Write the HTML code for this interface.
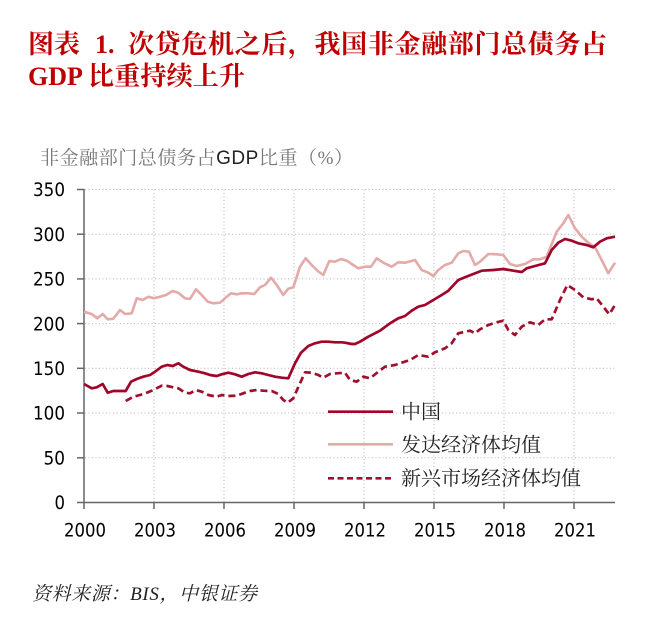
<!DOCTYPE html>
<html>
<head>
<meta charset="utf-8">
<style>
html,body{margin:0;padding:0;background:#fff;}
svg{display:block;}
</style>
</head>
<body>
<svg width="645" height="629" viewBox="0 0 645 629" xmlns="http://www.w3.org/2000/svg">
<rect width="645" height="629" fill="#fff"/>

<!-- Title -->
<g fill="#c00000" font-weight="bold" font-size="26">
  <text x="28" y="53" font-family="'Liberation Serif','Noto Serif CJK SC',serif" textLength="52" lengthAdjust="spacing">图表</text>
  <text x="95" y="53" font-family="'Liberation Serif',serif">1.</text>
  <text x="128" y="53" font-family="'Liberation Serif','Noto Serif CJK SC',serif" textLength="479" lengthAdjust="spacing">次贷危机之后，我国非金融部门总债务占</text>
  <text x="28" y="85" font-family="'Liberation Serif',serif">GDP</text>
  <text x="88" y="85" font-family="'Liberation Serif','Noto Serif CJK SC',serif" textLength="157" lengthAdjust="spacing">比重持续上升</text>
</g>

<!-- Axis title -->
<text x="40" y="164" font-size="19" font-family="'Liberation Serif','Noto Serif CJK SC',serif" fill="#777" textLength="313" lengthAdjust="spacing">非金融部门总债务占<tspan font-family="'Liberation Sans',sans-serif" fill="#222">GDP</tspan>比重（%）</text>

<!-- Grid -->
<g stroke="#b4b4b4" stroke-width="1" stroke-dasharray="1 2.5" fill="none">
  <line x1="85" y1="189.5" x2="615" y2="189.5"/>
  <line x1="85" y1="234.2" x2="615" y2="234.2"/>
  <line x1="85" y1="278.9" x2="615" y2="278.9"/>
  <line x1="85" y1="323.6" x2="615" y2="323.6"/>
  <line x1="85" y1="368.3" x2="615" y2="368.3"/>
  <line x1="85" y1="413.0" x2="615" y2="413.0"/>
  <line x1="85" y1="457.8" x2="615" y2="457.8"/>
  <line x1="154" y1="189.5" x2="154" y2="502"/>
  <line x1="224" y1="189.5" x2="224" y2="502"/>
  <line x1="294" y1="189.5" x2="294" y2="502"/>
  <line x1="364" y1="189.5" x2="364" y2="502"/>
  <line x1="434" y1="189.5" x2="434" y2="502"/>
  <line x1="504" y1="189.5" x2="504" y2="502"/>
  <line x1="574" y1="189.5" x2="574" y2="502"/>
</g>

<!-- Axes -->
<g stroke="#666" stroke-width="1.5" fill="none">
  <line x1="84" y1="189" x2="84" y2="503"/>
  <line x1="83.5" y1="502.5" x2="615" y2="502.5"/>
  <line x1="77" y1="189.5" x2="84" y2="189.5"/>
  <line x1="77" y1="234.2" x2="84" y2="234.2"/>
  <line x1="77" y1="278.9" x2="84" y2="278.9"/>
  <line x1="77" y1="323.6" x2="84" y2="323.6"/>
  <line x1="77" y1="368.3" x2="84" y2="368.3"/>
  <line x1="77" y1="413.0" x2="84" y2="413.0"/>
  <line x1="77" y1="457.8" x2="84" y2="457.8"/>
  <line x1="77" y1="502.5" x2="84" y2="502.5"/>
  <line x1="84" y1="502.5" x2="84" y2="509"/>
  <line x1="154" y1="502.5" x2="154" y2="509"/>
  <line x1="224" y1="502.5" x2="224" y2="509"/>
  <line x1="294" y1="502.5" x2="294" y2="509"/>
  <line x1="364" y1="502.5" x2="364" y2="509"/>
  <line x1="434" y1="502.5" x2="434" y2="509"/>
  <line x1="504" y1="502.5" x2="504" y2="509"/>
  <line x1="574" y1="502.5" x2="574" y2="509"/>
</g>

<!-- Y tick labels -->
<g font-family="'DejaVu Sans','Liberation Sans',sans-serif" font-size="18.5" fill="#000" text-anchor="end">
  <text x="65" y="196.2" textLength="32" lengthAdjust="spacingAndGlyphs">350</text>
  <text x="65" y="240.9" textLength="32" lengthAdjust="spacingAndGlyphs">300</text>
  <text x="65" y="285.6" textLength="32" lengthAdjust="spacingAndGlyphs">250</text>
  <text x="65" y="330.3" textLength="32" lengthAdjust="spacingAndGlyphs">200</text>
  <text x="65" y="375.0" textLength="32" lengthAdjust="spacingAndGlyphs">150</text>
  <text x="65" y="419.7" textLength="32" lengthAdjust="spacingAndGlyphs">100</text>
  <text x="65" y="464.5" textLength="21.5" lengthAdjust="spacingAndGlyphs">50</text>
  <text x="65" y="509.2" textLength="10.5" lengthAdjust="spacingAndGlyphs">0</text>
</g>

<!-- X tick labels -->
<g font-family="'DejaVu Sans','Liberation Sans',sans-serif" font-size="18.5" fill="#000" text-anchor="middle">
  <text x="85" y="536.5" textLength="42" lengthAdjust="spacingAndGlyphs">2000</text>
  <text x="155" y="536.5" textLength="42" lengthAdjust="spacingAndGlyphs">2003</text>
  <text x="225" y="536.5" textLength="42" lengthAdjust="spacingAndGlyphs">2006</text>
  <text x="295" y="536.5" textLength="42" lengthAdjust="spacingAndGlyphs">2009</text>
  <text x="365" y="536.5" textLength="42" lengthAdjust="spacingAndGlyphs">2012</text>
  <text x="435" y="536.5" textLength="42" lengthAdjust="spacingAndGlyphs">2015</text>
  <text x="505" y="536.5" textLength="42" lengthAdjust="spacingAndGlyphs">2018</text>
  <text x="575" y="536.5" textLength="42" lengthAdjust="spacingAndGlyphs">2021</text>
</g>

<!-- Developed economies (pink) -->
<polyline fill="none" stroke="#e4a9a9" stroke-width="2.6" stroke-linejoin="round" points="84,311.7 91.7,314 97.3,318.3 102.7,314 107.7,319.3 113.3,318.7 120,310 125,314 131.7,313.3 136.7,298.3 142.7,300 148.3,296.7 154,298.3 160,296.7 166,295 172.7,291 178.3,292.7 185,298.3 190,299 196,289.3 201.7,295 207.7,301.7 213.3,303.3 220,302.7 225,298.3 231,293.3 236.7,294.3 241.7,293.3 248.3,293.3 254.3,294 260,287.3 265,285 271,277.7 276.7,285 283.3,295 288.3,288.7 293.3,287.3 300,266.7 305.7,258.3 311.7,265 317.7,271 323.3,275 329.3,261 335,261.7 341,259 346.7,260.7 351.7,264 358.3,268.3 365,266.7 371,266.7 376.7,258.3 383.3,262.7 391.7,266.7 398.3,262.3 405,262.7 415,260 421.7,270 428.3,272.7 433.3,276 438.3,270 445,265 451.7,262.7 458.3,253.3 463.3,251 469,251.7 475,265 480,261.7 488.3,254 496.7,254.3 503.3,255 510,264 516.7,266 525,264 533.3,259.3 540,259.3 546.7,256.7 556.7,231.7 563.3,223.3 568.3,215 575,228.3 581.7,236.7 588.3,242.7 595,247.3 601.7,260 608.3,273.3 615,262.7"/>

<!-- Emerging markets (dashed) -->
<polyline fill="none" stroke="#a0102e" stroke-width="2.7" stroke-dasharray="7 4" stroke-linejoin="round" points="125.7,401 133.3,396.7 140,395 146.7,392.7 153.3,390 161.7,385.7 167.3,386 173.3,387.3 178.3,388.3 185,392.7 190,393.3 196,390 201.7,391.7 208.3,395 216.7,396.7 221.7,395 228.3,396 236.7,395.7 243.3,393.3 250,391 256.7,390 263.3,390.7 271.7,391 278.3,394 283.3,400 287.7,402.7 293.3,398.3 300,383.3 305,372.3 311.7,372.7 318.3,375 323.3,377.7 330,374 336.7,373.3 345,372.7 350,380 356.7,381.7 363.3,376.7 370,378.3 378.3,371.7 385,366.7 395,365 401.7,362.7 410,360 418.3,355 428.3,356.7 435,352.3 445,348.3 451.7,343.3 458.3,333.3 470,330.7 475,333.3 480,329.3 488.3,325 496.7,322.3 503.3,320.7 508.3,330 515,335 521.7,326.7 530,322.3 538.3,325 545,319.3 551.7,319.3 560,300 567.3,285 575,290 583.3,297.3 591.7,299.3 596.7,298.3 603.3,306.7 609.3,314.3 615,305"/>

<!-- China -->
<polyline fill="none" stroke="#a0052a" stroke-width="2.7" stroke-linejoin="round" points="84,384 91.7,388.3 96.7,387.3 102.7,384 107.7,392.7 113.3,391 120,391 125.7,391 131,381.7 136.7,379 143.3,376.7 150,375 155,371.7 161.7,366.7 167.3,365 172.7,366 178.3,363.3 183.3,366.7 190,370 198.3,371.7 205,373.3 210,375 216.7,376 221.7,374.3 228.3,372.7 235,374.3 241.7,376.7 248.3,374 255,372.3 261.7,373.3 268.3,375 275,376.7 281.7,377.7 288.3,378.3 295,363.3 301,352.7 308.3,346 315,343.3 321.7,341.7 328.3,341.7 335,342.3 341.7,342.3 345,342.7 351.7,344 355,344 360,341.7 368.3,336.7 380,330.7 390,323.3 398.3,318.3 405,316 411.7,310.7 418.3,306.7 425,305 433.3,300 441.7,295 448.3,290.7 458.3,280 465,277.3 473.3,274 481.7,270.7 493.3,270 503.3,269 513.3,270.7 521.7,272 526.7,268.3 535,266 545,263.3 551.7,250 558.3,242.7 565,239 571.7,240.7 578.3,243.3 586.7,245 593.3,247.3 600,241.7 606.7,238.3 615,236.7"/>

<!-- Legend -->
<line x1="328" y1="411.7" x2="393" y2="411.7" stroke="#a0052a" stroke-width="2.7"/>
<line x1="328" y1="444.3" x2="393" y2="444.3" stroke="#e4a9a9" stroke-width="2.6"/>
<line x1="328" y1="478.3" x2="393" y2="478.3" stroke="#a0102e" stroke-width="2.7" stroke-dasharray="6 3.5"/>
<g font-family="'Liberation Serif','Noto Serif CJK SC',serif" font-size="20" fill="#222">
  <text x="401" y="418.7">中国</text>
  <text x="401" y="451.3">发达经济体均值</text>
  <text x="401" y="485">新兴市场经济体均值</text>
</g>

<!-- Source -->
<text x="32" y="600" font-family="'Liberation Serif','Noto Serif CJK SC',serif" font-style="italic" font-size="19" fill="#222" textLength="225" lengthAdjust="spacing">资料来源：BIS，中银证券</text>
</svg>
</body>
</html>
